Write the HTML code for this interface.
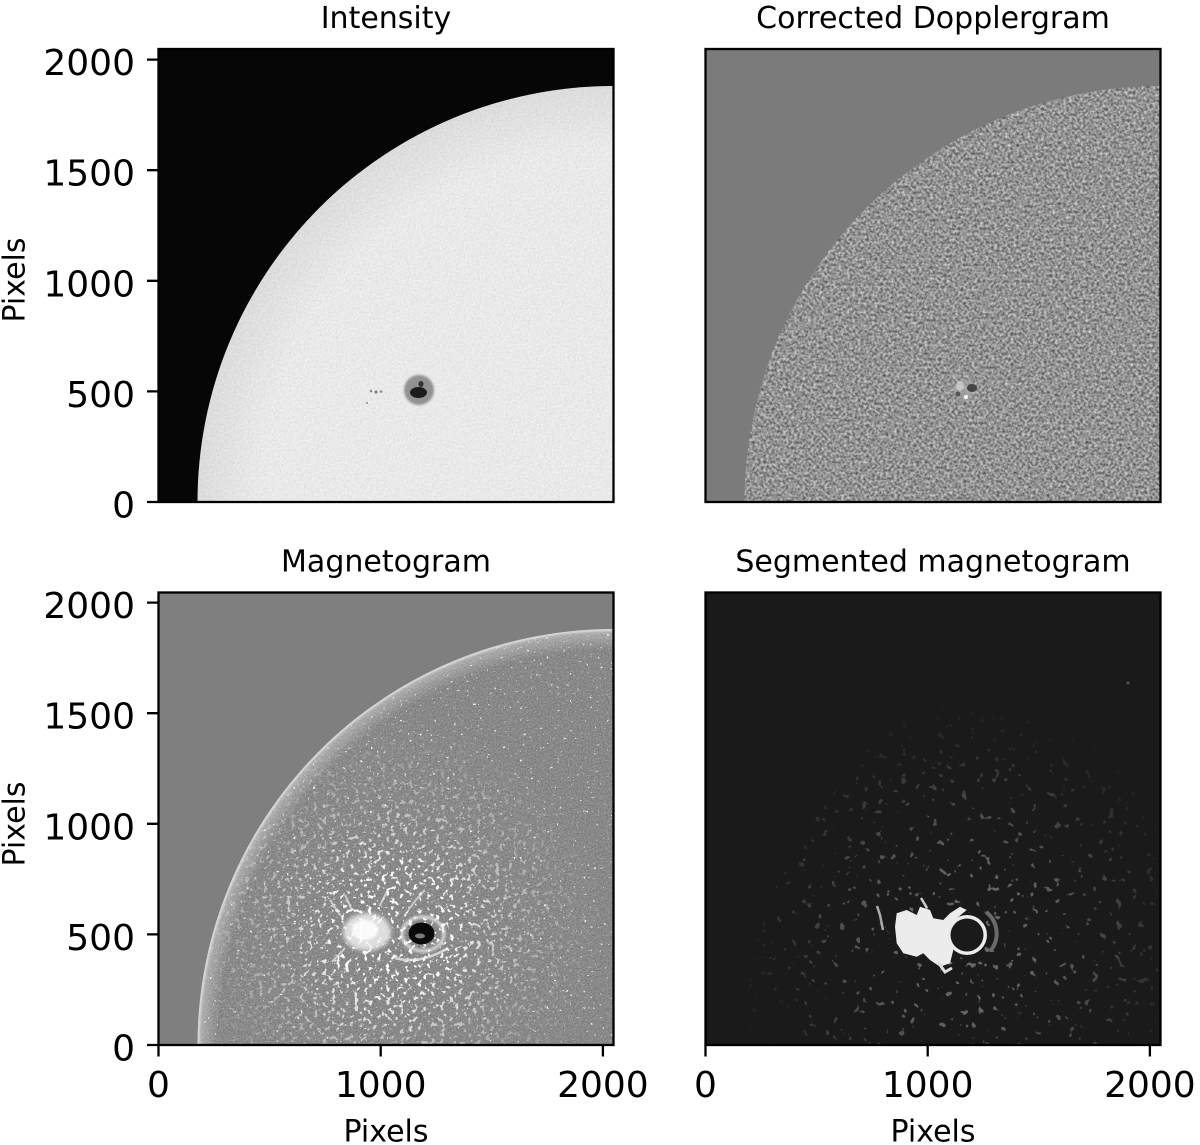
<!DOCTYPE html>
<html><head><meta charset="utf-8">
<style>
html,body{margin:0;padding:0;background:#fff;width:1200px;height:1145px;overflow:hidden;}
svg{display:block;}
text{font-family:"DejaVu Sans","Liberation Sans",sans-serif;fill:#000;}
</style></head><body>
<svg width="1200" height="1145" viewBox="0 0 1200 1145" xmlns="http://www.w3.org/2000/svg">
<defs>
 <clipPath id="cTL"><rect x="158.5" y="49" width="455" height="453"/></clipPath>
 <clipPath id="cTR"><rect x="705.5" y="49" width="455" height="453"/></clipPath>
 <clipPath id="cBL"><rect x="158.5" y="592.5" width="455" height="452.5"/></clipPath>
 <clipPath id="cBR"><rect x="705.5" y="592.5" width="455" height="452.5"/></clipPath>
 <clipPath id="dTL"><circle cx="613.5" cy="502" r="416"/></clipPath>
 <clipPath id="dTR"><circle cx="1160.5" cy="502" r="416"/></clipPath>
 <clipPath id="dBL"><circle cx="613.5" cy="1045" r="416"/></clipPath>
 <clipPath id="dBR"><circle cx="1160.5" cy="1045" r="416"/></clipPath>

 <filter id="fInt" x="0" y="0" width="1" height="1" color-interpolation-filters="sRGB">
  <feTurbulence type="fractalNoise" baseFrequency="0.5" numOctaves="1" seed="2"/>
  <feColorMatrix type="matrix" values="0.12 0 0 0 0.855  0.12 0 0 0 0.855  0.12 0 0 0 0.855  0 0 0 0 1"/>
 </filter>
 <filter id="fDop" x="0" y="0" width="1" height="1" color-interpolation-filters="sRGB">
  <feTurbulence type="fractalNoise" baseFrequency="0.36" numOctaves="2" seed="7"/>
  <feColorMatrix type="matrix" values="0.75 0 0 0 0.20  0.75 0 0 0 0.20  0.75 0 0 0 0.20  0 0 0 0 1"/>
 </filter>
 <filter id="fMag" x="0" y="0" width="1" height="1" color-interpolation-filters="sRGB">
  <feTurbulence type="fractalNoise" baseFrequency="0.6" numOctaves="2" seed="11"/>
  <feColorMatrix type="matrix" values="0.25 0 0 0 0.41  0.25 0 0 0 0.41  0.25 0 0 0 0.41  0 0 0 0 1"/>
 </filter>
 <filter id="fSpkW" x="0" y="0" width="1" height="1" color-interpolation-filters="sRGB">
  <feTurbulence type="fractalNoise" baseFrequency="0.3" numOctaves="2" seed="5"/>
  <feColorMatrix type="matrix" values="0 0 0 0 1  0 0 0 0 1  0 0 0 0 1  22 0 0 0 -16.2"/>
 </filter>
 <filter id="fSpkW2" x="0" y="0" width="1" height="1" color-interpolation-filters="sRGB">
  <feTurbulence type="fractalNoise" baseFrequency="0.22" numOctaves="2" seed="9"/>
  <feColorMatrix type="matrix" values="0 0 0 0 1  0 0 0 0 1  0 0 0 0 1  14 0 0 0 -8.4"/>
 </filter>
 <filter id="fSpkG" x="0" y="0" width="1" height="1" color-interpolation-filters="sRGB">
  <feTurbulence type="fractalNoise" baseFrequency="0.13" numOctaves="2" seed="21"/>
  <feColorMatrix type="matrix" values="0 0 0 0 0.42  0 0 0 0 0.42  0 0 0 0 0.42  20 0 0 0 -13.6"/>
 </filter>
 <filter id="blur2"><feGaussianBlur stdDeviation="2"/></filter>
 <filter id="blur1"><feGaussianBlur stdDeviation="1"/></filter>

 <radialGradient id="ldTL" gradientUnits="userSpaceOnUse" cx="613.5" cy="502" r="416">
  <stop offset="0" stop-color="#000" stop-opacity="0"/>
  <stop offset="0.85" stop-color="#000" stop-opacity="0"/>
  <stop offset="1" stop-color="#000" stop-opacity="0.06"/>
 </radialGradient>
 <radialGradient id="rimBL" gradientUnits="userSpaceOnUse" cx="613.5" cy="1045" r="416">
  <stop offset="0" stop-color="#fff" stop-opacity="0"/>
  <stop offset="0.95" stop-color="#fff" stop-opacity="0"/>
  <stop offset="0.99" stop-color="#fff" stop-opacity="0.3"/>
  <stop offset="1" stop-color="#fff" stop-opacity="0.6"/>
 </radialGradient>
 <radialGradient id="gAR_BL" gradientUnits="userSpaceOnUse" cx="395" cy="930" r="210">
  <stop offset="0" stop-color="#fff"/>
  <stop offset="0.25" stop-color="#fff"/>
  <stop offset="0.55" stop-color="#777"/>
  <stop offset="1" stop-color="#000"/>
 </radialGradient>
 <mask id="mAR_BL" maskUnits="userSpaceOnUse" x="0" y="0" width="1200" height="1145">
  <rect x="158.5" y="592.5" width="455" height="452.5" fill="url(#gAR_BL)"/>
 </mask>
 <radialGradient id="gAR_BR" gradientUnits="userSpaceOnUse" cx="965" cy="940" r="240">
  <stop offset="0" stop-color="#fff"/>
  <stop offset="0.35" stop-color="#ddd"/>
  <stop offset="0.7" stop-color="#666"/>
  <stop offset="1" stop-color="#000"/>
 </radialGradient>
 <mask id="mAR_BR" maskUnits="userSpaceOnUse" x="0" y="0" width="1200" height="1145">
  <rect x="705.5" y="592.5" width="455" height="452.5" fill="url(#gAR_BR)"/>
 </mask>
</defs>

<!-- ============ TOP LEFT: Intensity ============ -->
<rect x="158.5" y="49" width="455" height="453" fill="#060606"/>
<g clip-path="url(#cTL)">
 <g clip-path="url(#dTL)">
  <rect x="158.5" y="49" width="455" height="453" fill="#e6e6e6" filter="url(#fInt)"/>
  <rect x="158.5" y="49" width="455" height="453" fill="url(#ldTL)"/>
 </g>
 <circle cx="419" cy="390" r="15" fill="#929292" filter="url(#blur1)"/>
 <ellipse cx="418.5" cy="392.5" rx="8.5" ry="5.5" fill="#1c1c1c"/>
 <ellipse cx="421" cy="384" rx="2.5" ry="3" fill="#333"/>
 <circle cx="371" cy="391" r="1.3" fill="#888"/>
 <circle cx="376" cy="392" r="1.5" fill="#777"/>
 <circle cx="381" cy="391.5" r="1.3" fill="#888"/>
 <circle cx="367" cy="403" r="1.1" fill="#999"/>
</g>
<rect x="158.5" y="49" width="455" height="453" fill="none" stroke="#000" stroke-width="2.3"/>

<!-- ============ TOP RIGHT: Dopplergram ============ -->
<rect x="705.5" y="49" width="455" height="453" fill="#7b7b7b"/>
<g clip-path="url(#cTR)">
 <g clip-path="url(#dTR)">
  <rect x="705.5" y="49" width="455" height="453" fill="#8c8c8c" filter="url(#fDop)"/>
 </g>
 <circle cx="965" cy="390" r="11" fill="#a8a8a8" opacity="0.6" filter="url(#blur1)"/>
 <ellipse cx="960" cy="386" rx="4" ry="5" fill="#d0d0d0" opacity="0.8"/>
 <ellipse cx="972" cy="388" rx="5" ry="4" fill="#444"/>
 <circle cx="958" cy="394" r="2.5" fill="#555"/>
 <circle cx="966" cy="397" r="2" fill="#fff"/>
</g>
<rect x="705.5" y="49" width="455" height="453" fill="none" stroke="#000" stroke-width="2.3"/>

<!-- ============ BOTTOM LEFT: Magnetogram ============ -->
<rect x="158.5" y="592.5" width="455" height="452.5" fill="#7f7f7f"/>
<g clip-path="url(#cBL)">
 <g clip-path="url(#dBL)">
  <rect x="158.5" y="592.5" width="455" height="452.5" fill="#888" filter="url(#fMag)"/>
  <rect x="158.5" y="592.5" width="455" height="452.5" fill="#fff" filter="url(#fSpkW)" opacity="0.85"/>
  <rect x="158.5" y="592.5" width="455" height="452.5" fill="#fff" filter="url(#fSpkW2)" mask="url(#mAR_BL)"/>
  <rect x="158.5" y="592.5" width="455" height="452.5" fill="url(#rimBL)"/>
  <circle cx="613.5" cy="1045" r="415" fill="none" stroke="#d8d8d8" stroke-width="2" opacity="0.7"/>
 </g>
 <!-- plage -->
 <ellipse cx="367" cy="932" rx="24" ry="19" fill="#f4f4f4" opacity="0.8" filter="url(#blur2)"/>
 <ellipse cx="365" cy="930" rx="13" ry="10" fill="#fff" opacity="0.85" filter="url(#blur1)"/>
 <ellipse cx="423" cy="934" rx="21" ry="17" fill="none" stroke="#f0f0f0" stroke-width="3.5" opacity="0.7" filter="url(#blur1)"/>
 <path d="M395 958 Q420 965 448 948" fill="none" stroke="#eee" stroke-width="2.5" opacity="0.75"/>
 <path d="M405 915 Q415 900 425 890" fill="none" stroke="#eee" stroke-width="2" opacity="0.6"/>
 <path d="M340 915 L330 900 M345 948 L332 962 M380 905 L388 890 M352 910 L345 895" stroke="#eee" stroke-width="2" opacity="0.7"/>
 <!-- spot -->
 <ellipse cx="421.5" cy="933.5" rx="13" ry="11" fill="#0a0a0a"/>
 <ellipse cx="420" cy="936" rx="5" ry="2.5" fill="#7a7a7a"/>
</g>
<rect x="158.5" y="592.5" width="455" height="452.5" fill="none" stroke="#000" stroke-width="2.3"/>

<!-- ============ BOTTOM RIGHT: Segmented ============ -->
<rect x="705.5" y="592.5" width="455" height="452.5" fill="#1a1a1a"/>
<g clip-path="url(#cBR)">
 <g clip-path="url(#dBR)">
  <rect x="705.5" y="592.5" width="455" height="452.5" fill="#6b6b6b" filter="url(#fSpkG)" mask="url(#mAR_BR)"/>
 </g>
 <polygon fill="#ececec" points="896.7,913.3 906.7,910 916.7,915 920,906.7 930,910 933.3,918.3 943.3,920 950,913.3 960,906.7 966.7,910 956.7,918.3 951.7,926.7 950,940 953.3,950 950,963.3 940,966.7 930,960 923.3,953.3 916.7,956.7 903.3,953.3 896.7,943.3 895,926.7"/>
 <circle cx="967" cy="935" r="20" fill="#ececec"/>
 <circle cx="967" cy="935" r="16.5" fill="#1a1a1a"/>
 <path d="M986 912 A27 27 0 0 1 991 950" fill="none" stroke="#6a6a6a" stroke-width="4"/>
 <polyline points="877,906 880,915 883,930" fill="none" stroke="#aaa" stroke-width="2.5"/>
 <polyline points="921,898 924,903 927,908" fill="none" stroke="#ccc" stroke-width="2.5"/>
 <path d="M938 962 L945 972 L952 968" fill="none" stroke="#ddd" stroke-width="3"/>
 <circle cx="1128" cy="683" r="1.5" fill="#555"/>
</g>
<rect x="705.5" y="592.5" width="455" height="452.5" fill="none" stroke="#000" stroke-width="2.3"/>

<!-- ============ TICKS ============ -->
<path d="M147 502H158.5M147 391.4H158.5M147 280.8H158.5M147 170.2H158.5M147 59.6H158.5" stroke="#000" stroke-width="2.3"/>
<path d="M147 1045H158.5M147 934.4H158.5M147 823.8H158.5M147 713.2H158.5M147 602.6H158.5" stroke="#000" stroke-width="2.3"/>
<path d="M158.5 1045V1056.5M380.7 1045V1056.5M602.9 1045V1056.5" stroke="#000" stroke-width="2.3"/>
<path d="M705.5 1045V1056.5M927.7 1045V1056.5M1149.9 1045V1056.5" stroke="#000" stroke-width="2.3"/>

<!-- tick labels -->
<g font-size="36" text-anchor="end">
 <text x="135" y="517.5">0</text>
 <text x="135" y="406.9">500</text>
 <text x="135" y="296.3">1000</text>
 <text x="135" y="185.7">1500</text>
 <text x="135" y="75.1">2000</text>
 <text x="135" y="1060.5">0</text>
 <text x="135" y="949.9">500</text>
 <text x="135" y="839.3">1000</text>
 <text x="135" y="728.7">1500</text>
 <text x="135" y="618.1">2000</text>
</g>
<g font-size="36" text-anchor="middle">
 <text x="158.5" y="1097">0</text>
 <text x="380.7" y="1097">1000</text>
 <text x="602.9" y="1097">2000</text>
 <text x="705.5" y="1097">0</text>
 <text x="927.7" y="1097">1000</text>
 <text x="1149.9" y="1097">2000</text>
</g>

<!-- titles -->
<g font-size="30" text-anchor="middle">
 <text x="386" y="28">Intensity</text>
 <text x="933" y="28">Corrected Dopplergram</text>
 <text x="386" y="571.5">Magnetogram</text>
 <text x="933" y="571.5">Segmented magnetogram</text>
 <text x="386" y="1141.5">Pixels</text>
 <text x="933" y="1141.5">Pixels</text>
 <text transform="translate(24.5,280) rotate(-90)">Pixels</text>
 <text transform="translate(24.5,824) rotate(-90)">Pixels</text>
</g>
</svg>
</body></html>
